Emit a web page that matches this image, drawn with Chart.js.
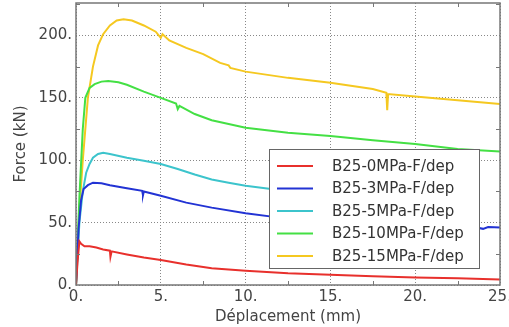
<!DOCTYPE html>
<html><head><meta charset="utf-8">
<script src="https://cdn.jsdelivr.net/npm/chart.js@4"></script>
<style>html,body{margin:0;padding:0;background:#fff}#wrap{width:509px;height:327px}</style>
</head><body><div id="wrap"><canvas id="c" width="509" height="327"></canvas></div>
<script>
const seriesLabels = ['B25-0MPa-F/dep','B25-3MPa-F/dep','B25-5MPa-F/dep','B25-10MPa-F/dep','B25-15MPa-F/dep'];
const seriesColors = ['#e8302c','#2233d4','#3cc4cc','#44e044','#f5c820'];

const disp0  = [0,0.1,0.2,0.3,0.5,0.8,1.2,1.6,2.0,2.03,2.1,3,4,5,6.5,8,10,12.5,15,17.5,20,22.5,25];
const force0 = [0,20,35,33,31,31,30,28.5,27.5,22.5,27,24.5,22,20,16.5,13.5,11.5,9.5,8.3,7,6,5.5,4.5];

const disp3  = [0,0.15,0.3,0.45,0.7,1.0,1.5,2,3,3.9,3.95,4.0,5,6.5,8,10,12,15,18,21,23.5,24,24.3,25];
const force3 = [0,45,68,77,80,82,81.5,80,77.5,75.5,72,75,71.5,66,62,57.5,54,51,49,47.5,46.5,45,46.5,46];

const disp5  = [0,0.2,0.4,0.6,0.8,1.0,1.3,1.6,2,3,4,5,6,7,8,9,10,11.5,14,17,20,22];
const force5 = [0,50,75,90,97,102,105,106,105,102,99.5,97,93,88.5,84.5,82,79.5,77,73,69,65,63];

const disp10  = [0,0.2,0.4,0.55,0.8,1.1,1.5,1.9,2.5,3,4,5,5.9,6.0,6.1,7,8,10,12.5,15,17.5,20,22.5,25];
const force10 = [0,70,125,150,158,161,163,163.5,162.5,160.5,155,150,145.5,141,143.5,137,132,126,122,119.5,116,113,109,107];

const disp15  = [0,0.2,0.4,0.7,1.0,1.3,1.6,2.0,2.4,2.8,3.3,4,4.7,5.0,5.1,5.5,6.5,7.5,8.5,9.0,9.1,10,12.5,15,17.5,18.3,18.35,18.4,20,22.5,25];
const force15 = [0,60,100,150,175,192,201,208,212,213,212,208,203,198,201,196,190,185,178,176,174,171,166,162,157,154,140,153,151,148,145];

const xTicks = [0,5,10,15,20,25];
const yTicks = [0,50,100,150,200];
const xMinor = [2.5,7.5,12.5,17.5,22.5];
const yMinor = [25,75,125,175,225];

const allDisp = [disp0,disp3,disp5,disp10,disp15];
const allForce = [force0,force3,force5,force10,force15];

const datasets = seriesLabels.map((lab,i)=>({
  label: lab,
  data: allDisp[i].map((x,j)=>({x:x,y:allForce[i][j]})),
  borderColor: seriesColors[i],
  backgroundColor: seriesColors[i],
  borderWidth: 2,
  pointRadius: 0,
  tension: 0,
  fill: false
}));

const FONT = 'DejaVu Sans';

const framePlugin = {
  id:'frame',
  afterDatasetsDraw(chart){
    const {ctx, chartArea:a, scales:{x,y}} = chart;
    ctx.save();
    ctx.strokeStyle = '#777';
    ctx.lineWidth = 1.5;
    ctx.setLineDash([]);
    ctx.strokeRect(a.left, a.top, a.right-a.left, a.bottom-a.top);
    ctx.lineWidth = 1;
    const L = 4;
    xMinor.forEach(v=>{
      const px = Math.round(x.getPixelForValue(v))+0.5;
      ctx.beginPath();
      ctx.moveTo(px,a.bottom); ctx.lineTo(px,a.bottom-L);
      ctx.moveTo(px,a.top); ctx.lineTo(px,a.top+L);
      ctx.stroke();
    });
    yMinor.forEach(v=>{
      const py = Math.round(y.getPixelForValue(v))+0.5;
      if (py < a.top) return;
      ctx.beginPath();
      ctx.moveTo(a.left,py); ctx.lineTo(a.left+L,py);
      ctx.moveTo(a.right,py); ctx.lineTo(a.right-L,py);
      ctx.stroke();
    });
    ctx.restore();
  },
  afterDraw(chart){
    const ctx = chart.ctx;
    const bx=269, by=149, bw=210, bh=119;
    ctx.save();
    ctx.fillStyle='#fff';
    ctx.fillRect(bx,by,bw,bh);
    ctx.strokeStyle='#666';
    ctx.lineWidth=1;
    ctx.strokeRect(bx+0.5,by+0.5,bw,bh);
    ctx.font = '15px "'+FONT+'"';
    ctx.textBaseline='middle';
    ctx.textAlign='left';
    chart.data.datasets.forEach((ds,i)=>{
      const ry = by + 17 + i*22.5;
      ctx.strokeStyle = ds.borderColor;
      ctx.lineWidth = 2;
      ctx.beginPath();
      ctx.moveTo(277,ry); ctx.lineTo(313,ry);
      ctx.stroke();
      ctx.fillStyle='#333';
      ctx.fillText(ds.label, 332, ry+1);
    });
    ctx.restore();
  }
};

new Chart(document.getElementById('c'), {
  type:'line',
  data:{datasets:datasets},
  options:{
    responsive:false,
    devicePixelRatio:1,
    animation:false,
    parsing:true,
    layout:{padding:{top:3,right:9,left:0,bottom:0}},
    plugins:{legend:{display:false},tooltip:{enabled:false}},
    scales:{
      x:{
        type:'linear', min:0, max:25,
        afterBuildTicks(s){ s.ticks = xTicks.map(v=>({value:v})); },
        afterFit(s){ s.height = 42; s.paddingLeft = 0; s.paddingRight = 0; },
        ticks:{ callback:v=>v+'.', color:'#444', font:{family:FONT,size:15}, padding:3, maxRotation:0, autoSkip:false },
        grid:{ color:'#888', lineWidth:1, drawTicks:false },
        border:{ display:false, dash:[1,2] },
        title:{ display:true, text:'Déplacement (mm)', color:'#444', font:{family:FONT,size:15}, padding:{top:0,bottom:1} }
      },
      y:{
        type:'linear', min:0, max:226,
        afterBuildTicks(s){ s.ticks = yTicks.map(v=>({value:v})); },
        afterFit(s){ s.width = 76; s.paddingTop = 0; s.paddingBottom = 0; },
        ticks:{ callback:v=>v+'.', color:'#444', font:{family:FONT,size:15}, padding:4, autoSkip:false },
        grid:{ color:'#888', lineWidth:1, drawTicks:false },
        border:{ display:false, dash:[1,2] },
        title:{ display:true, text:'Force (kN)', color:'#444', font:{family:FONT,size:15}, padding:{top:12,bottom:0} }
      }
    }
  },
  plugins:[framePlugin]
});
</script>
</body></html>
